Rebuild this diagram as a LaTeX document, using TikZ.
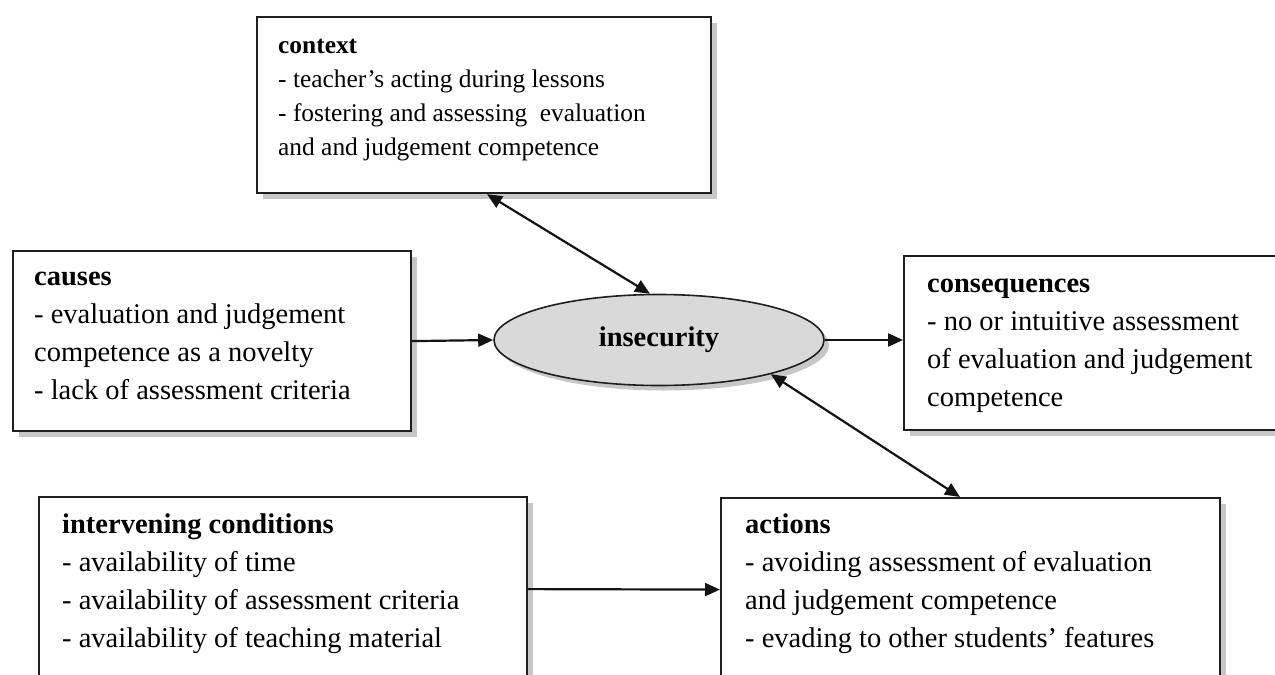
\documentclass[tikz,border=0pt]{standalone}
\usepackage{fontspec}
\setmainfont{Liberation Serif}
\usetikzlibrary{arrows.meta,shapes.geometric,shadows,calc}
\begin{document}
\begin{tikzpicture}[x=1pt,y=-1pt,
  box/.style={draw=black!88, line width=2.2pt, fill=white, inner sep=0pt, anchor=north west,
     drop shadow={shadow xshift=6pt, shadow yshift=-6pt, fill=black!22, opacity=1}},
  txt/.style={anchor=base west, inner sep=0pt, align=left, text=black, font=\fontsize{28.5}{38}\selectfont},
  smalltxt/.style={txt, font=\fontsize{25.4}{34}\selectfont},
  tip/.tip={Triangle[length=15pt,width=13pt]},
  arr/.style={line width=2.2pt, draw=black!92, -tip},
  darr/.style={line width=2.2pt, draw=black!92, tip-tip},
]
\useasboundingbox (0,0) rectangle (1275,675);
\clip (0,0) rectangle (1275,675);
\fill[white] (0,0) rectangle (1275,675);

% boxes
\node[box, minimum width=454pt, minimum height=176pt] (context) at (256,16) {};
\node[box, minimum width=398pt, minimum height=180pt] (causes) at (12,250) {};
\node[box, minimum width=400pt, minimum height=174pt] (cons) at (903,255) {};
\node[box, minimum width=488pt, minimum height=184pt] (interv) at (38,496) {};
\node[box, minimum width=499pt, minimum height=183pt] (actions) at (720,497) {};

% central ellipse
\node[ellipse, draw=black!88, fill=black!15, minimum width=330pt, minimum height=91pt, inner sep=0pt,
      line width=1.6pt, drop shadow={shadow xshift=5pt, shadow yshift=-5pt, fill=black!22, opacity=1},
      font=\bfseries\fontsize{28.5}{34}\selectfont] (ins) at (659,340) {insecurity};

% texts (anchor = baseline of the last line)
\node[smalltxt] (ctxt) at (278,155) {\textbf{context}\\- teacher’s acting during lessons\\- fostering and assessing\ \ evaluation\\and and judgement competence};
\node[txt] (catxt) at (34,399) {\textbf{causes}\\- evaluation and judgement\\competence as a novelty\\- lack of assessment criteria};
\node[txt] (cotxt) at (927,406) {\textbf{consequences}\\- no or intuitive assessment\\of evaluation and judgement\\competence};
\node[txt] (ivtxt) at (62,647) {\textbf{intervening conditions}\\- availability of time\\- availability of assessment criteria\\- availability of teaching material};
\node[txt] (actxt) at (745,647) {\textbf{actions}\\- avoiding assessment of evaluation\\and judgement competence\\- evading to other students’ features};

% connectors
\coordinate (cbot) at ($(context.south west)+(231,0)$);
\coordinate (atop) at ($(actions.north west)+(240,0)$);
\draw[darr] (cbot) -- (ins.101);
\draw[arr] (causes.east) -- (ins.west);
\draw[arr] (ins.east) -- (ins.east -| cons.west);
\draw[darr] (ins.-17) -- (atop);
\draw[arr] (interv.east) -- (actions.west);
\end{tikzpicture}
\end{document}
